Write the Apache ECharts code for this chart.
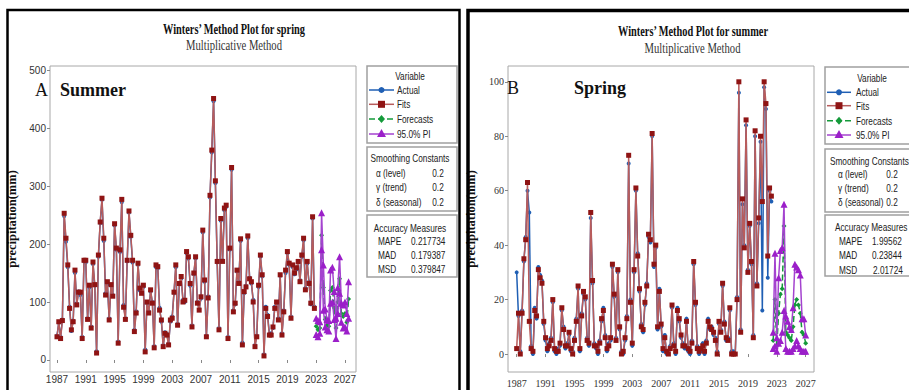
<!DOCTYPE html>
<html>
<head>
<meta charset="utf-8">
<script src="https://cdn.jsdelivr.net/npm/echarts@6/dist/echarts.min.js"></script>
<style>
  html, body { margin: 0; padding: 0; background: #fff; }
  #main { width: 909px; height: 390px; }
</style>
</head>
<body>
<div id="main"></div>
<script>
// 4 values per year, first one at 1987
var startYear = 1987;
var perYear = 4;

var yearTicks = [1987, 1991, 1995, 1999, 2003, 2007, 2011, 2015, 2019, 2023, 2027];
var summerTicks = [0, 100, 200, 300, 400, 500];
var springTicks = [0, 20, 40, 60, 80, 100];

// panel A (summer) - rows of 12 = 3 years
var summerActual = [
  42, 64, 40, 70, 248, 204, 160, 92, 50, 68, 150, 98,
  118, 112, 40, 170, 168, 72, 125, 58, 165, 128, 15, 178,
  236, 276, 205, 115, 130, 72, 128, 112, 232, 190, 32, 186,
  272, 95, 72, 170, 254, 212, 168, 52, 84, 164, 120, 118,
  126, 18, 98, 84, 118, 100, 24, 160, 158, 90, 66, 26,
  48, 45, 28, 66, 75, 115, 160, 62, 130, 140, 104, 100,
  184, 175, 128, 60, 148, 175, 100, 88, 106, 220, 135, 42,
  110, 280, 358, 446, 305, 168, 55, 240, 172, 258, 264, 40,
  190, 328, 86, 96, 152, 135, 205, 30, 115, 128, 210, 142,
  132, 104, 26, 42, 126, 178, 144, 10, 92, 78, 45, 46,
  55, 92, 98, 72, 145, 46, 86, 150, 184, 164, 75, 160,
  148, 156, 168, 138, 178, 206, 124, 166, 135, 96, 244, 92
];
var summerFits = [
  40, 66, 37, 68, 253, 210, 164, 89, 52, 66, 155, 95,
  117, 117, 37, 172, 172, 70, 129, 55, 169, 130, 12, 181,
  238, 279, 210, 112, 135, 69, 130, 110, 235, 193, 29, 190,
  277, 91, 70, 172, 257, 215, 172, 49, 81, 167, 124, 115,
  129, 14, 100, 81, 121, 98, 21, 164, 161, 86, 69, 23,
  46, 43, 26, 69, 72, 117, 164, 60, 132, 144, 100, 103,
  187, 178, 132, 57, 150, 178, 98, 86, 109, 224, 138, 40,
  107, 284, 362, 451, 309, 170, 52, 244, 170, 262, 267, 37,
  193, 332, 83, 98, 155, 132, 209, 26, 118, 126, 214, 140,
  135, 100, 23, 40, 129, 181, 147, 7, 89, 75, 43, 43,
  57, 89, 100, 69, 147, 43, 83, 155, 187, 167, 72, 164,
  150, 159, 170, 135, 181, 210, 121, 170, 132, 98, 247, 89
];
var summerForecast = [58, 52, 55, 215, 125, 70, 60, 58, 120, 125, 90, 55, 100, 140, 80, 75, 80, 65, 105];
var summerUpper = [72, 68, 66, 254, 164, 88, 70, 68, 155, 160, 118, 72, 125, 178, 98, 95, 100, 80, 135];
var summerLower = [44, 40, 46, 190, 86, 57, 52, 50, 98, 100, 70, 37, 80, 115, 65, 55, 57, 50, 72];

// panel B (spring)
var springActual = [
  30, 14, 1, 16, 34, 43, 60, 52, 3, 0, 17, 13,
  32, 29, 27, 11, 5, 1, 4, 6, 19, 1, 0, 2,
  3, 16, 10, 2, 4, 7, 1, 1, 6, 13, 24, 1,
  15, 22, 20, 6, 3, 50, 26, 4, 2, 0, 5, 12,
  17, 7, 1, 4, 5, 32, 21, 6, 30, 9, 1, 0,
  5, 14, 70, 20, 3, 30, 60, 37, 23, 11, 8, 18,
  26, 43, 41, 80, 32, 39, 9, 24, 10, 1, 7, 0,
  1, 3, 17, 4, 0, 17, 12, 6, 4, 2, 13, 1,
  0, 5, 33, 18, 3, 0, 1, 4, 0, 5, 13, 9,
  10, 7, 6, 1, 11, 9, 25, 12, 5, 6, 16, 1,
  1, 0, 21, 96, 9, 55, 40, 84, 31, 47, 33, 7,
  80, 26, 48, 78, 16, 98, 90, 28, 60, 56
];
var springFits = [
  2, 15, 0, 15, 35, 42, 63, 12, 2, 1, 16, 14,
  31, 28, 26, 12, 6, 2, 3, 5, 20, 2, 1, 1,
  4, 17, 9, 3, 3, 8, 2, 0, 5, 12, 25, 2,
  14, 23, 21, 5, 4, 52, 27, 3, 3, 1, 4, 13,
  16, 6, 2, 3, 6, 33, 22, 5, 31, 10, 0, 1,
  6, 13, 73, 19, 4, 31, 61, 36, 24, 10, 9, 19,
  25, 44, 42, 81, 33, 40, 10, 23, 11, 2, 6, 1,
  0, 2, 18, 3, 1, 16, 13, 7, 3, 3, 12, 2,
  1, 4, 34, 19, 2, 1, 2, 3, 1, 4, 12, 10,
  9, 8, 5, 0, 12, 8, 26, 11, 6, 5, 17, 0,
  0, 0, 20, 100, 8, 57, 39, 86, 30, 48, 34, 6,
  82, 25, 50, 80, 56, 100, 92, 36, 61, 58
];
var springForecast = [5, 20, 3, 15, 22, 24, 47, 8, 7, 6, 5, 10, 18, 20, 18, 15, 8, 7, 4];
var springUpper = [8, 37, 6, 28, 38, 39, 55, 14, 12, 10, 9, 17, 33, 32, 31, 29, 13, 13, 7];
var springLower = [2, 3, 1, 4, 5, 8, 16, 2, 1, 1, 1, 2, 3, 5, 3, 2, 1, 1, 1];

var sansFont = '"Liberation Sans", Arial, sans-serif';
var serifFont = '"Liberation Serif", "DejaVu Serif", serif';

var colActual = '#1f5fb4';
var colFitsLine = '#b85c5c';
var colFitsMark = '#8f1414';
var colFc = '#149a3a';
var colPI = '#9b1fc9';

function toPoints(values, offset) {
  return values.map(function (v, i) {
    return [startYear + (offset + i) / perYear, v];
  });
}

function panelSeries(idx, actual, fits, fc, up, lo) {
  var base = { type: 'line', xAxisIndex: idx, yAxisIndex: idx, emphasis: { disabled: true } };
  var n = actual.length;
  var pi = {
    symbol: 'triangle', symbolSize: 7, z: 5,
    itemStyle: { color: colPI },
    lineStyle: { color: '#a443cf', width: 1.5 }
  };
  return [
    Object.assign({}, base, {
      name: 'Actual', data: toPoints(actual, 0), z: 2,
      symbol: 'circle', symbolSize: 4,
      itemStyle: { color: colActual },
      lineStyle: { color: colActual, width: 1.5 }
    }),
    Object.assign({}, base, {
      name: 'Fits', data: toPoints(fits, 0), z: 3,
      symbol: 'rect', symbolSize: 5,
      itemStyle: { color: colFitsMark },
      lineStyle: { color: colFitsLine, width: 1.5 }
    }),
    Object.assign({}, base, {
      name: 'Forecasts', data: toPoints(fc, n), z: 4,
      symbol: 'diamond', symbolSize: 5,
      itemStyle: { color: colFc },
      lineStyle: { color: colFc, width: 1.5, type: 'dashed' }
    }),
    Object.assign({}, base, pi, { name: '95.0% PI', data: toPoints(up, n) }),
    Object.assign({}, base, pi, { name: '95.0% PI', data: toPoints(lo, n) })
  ];
}

function xAxisFor(idx, min, max, font, margin) {
  return {
    gridIndex: idx, type: 'value', min: min, max: max,
    axisLine: { show: false }, splitLine: { show: false },
    axisTick: { customValues: yearTicks, length: 3, lineStyle: { color: '#888' } },
    axisLabel: {
      customValues: yearTicks, margin: margin, fontFamily: font, fontSize: 10, color: '#333',
      formatter: function (v) { return String(v); }
    }
  };
}

function yAxisFor(idx, min, max, ticks, font, gap) {
  return {
    gridIndex: idx, type: 'value', min: min, max: max,
    name: 'precipitation(mm)', nameLocation: 'middle', nameGap: gap,
    nameTextStyle: { fontFamily: serifFont, fontWeight: 'bold', fontSize: 12.5, color: '#111' },
    axisLine: { show: false }, splitLine: { show: false },
    axisTick: { customValues: ticks, length: 3, lineStyle: { color: '#888' } },
    axisLabel: {
      customValues: ticks, margin: 4, fontFamily: font, fontSize: 10, color: '#333',
      formatter: function (v) { return String(v); }
    }
  };
}

// small condensed text (Minitab legend look)
function txt(s, x, y, opts) {
  opts = opts || {};
  return {
    type: 'text', x: x, y: y, scaleX: opts.sx || 0.75, z: 10,
    style: {
      text: s,
      font: opts.font || ('11px ' + sansFont),
      fill: opts.color || '#222',
      align: opts.align || 'left',
      verticalAlign: 'middle'
    }
  };
}

function box(x, y, w, h) {
  return {
    type: 'rect', z: 9,
    shape: { x: x, y: y, width: w, height: h },
    style: { fill: 'none', stroke: '#a0a0a0', lineWidth: 1.5 }
  };
}

// legend rows: line + marker + label
function legendRows(x1, x2, tx, ys) {
  var cx = (x1 + x2) / 2;
  var out = [];
  function ln(y, color, dash) {
    return { type: 'line', z: 10, shape: { x1: x1, y1: y, x2: x2, y2: y },
      style: { stroke: color, lineWidth: 1.5, lineDash: dash || null } };
  }
  out.push(ln(ys[0], colActual),
    { type: 'circle', z: 11, shape: { cx: cx, cy: ys[0], r: 3 }, style: { fill: colActual } },
    txt('Actual', tx, ys[0]));
  out.push(ln(ys[1], colFitsLine),
    { type: 'rect', z: 11, shape: { x: cx - 3.5, y: ys[1] - 3.5, width: 7, height: 7 }, style: { fill: colFitsMark } },
    txt('Fits', tx, ys[1]));
  out.push(ln(ys[2], colFc, [6, 3]),
    { type: 'polygon', z: 11, shape: { points: [[cx, ys[2] - 4], [cx + 3.5, ys[2]], [cx, ys[2] + 4], [cx - 3.5, ys[2]]] }, style: { fill: colFc } },
    txt('Forecasts', tx, ys[2]));
  out.push(ln(ys[3], '#a443cf'),
    { type: 'polygon', z: 11, shape: { points: [[cx, ys[3] - 5], [cx + 4.5, ys[3] + 3], [cx - 4.5, ys[3] + 3]] }, style: { fill: colPI } },
    txt('95.0% PI', tx, ys[3]));
  return out;
}

var titleFont = 'bold 14px ' + serifFont;
var subFont = '14px ' + serifFont;
var bigFont = 'bold 18px ' + serifFont;
var letterFont = '18px ' + serifFont;

var graphics = [
  // panel frames
  { type: 'rect', z: 9, shape: { x: 7.5, y: 10, width: 452, height: 400 },
    style: { fill: 'none', stroke: '#000', lineWidth: 2.5 } },
  { type: 'rect', z: 9, shape: { x: 468, y: 10.5, width: 460, height: 400 },
    style: { fill: 'none', stroke: '#000', lineWidth: 3.5 } },

  // panel A
  txt('Winters’ Method Plot for spring', 234, 29, { font: titleFont, align: 'center', sx: 0.74, color: '#111' }),
  txt('Multiplicative Method', 234, 45.5, { font: subFont, align: 'center', sx: 0.76, color: '#333' }),
  txt('A', 35, 90, { font: letterFont, color: '#111', sx: 1 }),
  txt('Summer', 60, 90, { font: bigFont, color: '#111', sx: 1 }),
  box(367, 66, 90, 77), box(367, 147, 90, 64), box(367, 215, 90, 62),
  txt('Variable', 410, 76, { align: 'center' }),
  txt('Smoothing Constants', 410, 158, { align: 'center' }),
  txt('α (level)', 376, 173), txt('0.2', 438, 173, { align: 'center' }),
  txt('γ (trend)', 376, 187.5), txt('0.2', 438, 187.5, { align: 'center' }),
  txt('δ (seasonal)', 376, 202), txt('0.2', 438, 202, { align: 'center' }),
  txt('Accuracy Measures', 410, 228, { align: 'center' }),
  txt('MAPE', 378, 241), txt('0.217734', 411, 241),
  txt('MAD', 378, 255), txt('0.179387', 411, 255),
  txt('MSD', 378, 269.5), txt('0.379847', 411, 269.5),

  // panel B
  txt('Winters’ Method Plot for summer', 693, 31, { font: titleFont, align: 'center', sx: 0.74, color: '#111' }),
  txt('Multiplicative Method', 692.5, 48.5, { font: subFont, align: 'center', sx: 0.76, color: '#333' }),
  txt('B', 507, 88, { font: letterFont, color: '#111', sx: 1 }),
  txt('Spring', 574, 88, { font: bigFont, color: '#111', sx: 1 }),
  box(825, 67, 100, 77), box(825, 149, 100, 63), box(825, 215, 100, 61),
  txt('Variable', 872, 78, { align: 'center' }),
  txt('Smoothing Constants', 830, 161),
  txt('α (level)', 838, 174.5), txt('0.2', 892, 174.5, { align: 'center' }),
  txt('γ (trend)', 838, 188.5), txt('0.2', 892, 188.5, { align: 'center' }),
  txt('δ (seasonal)', 838, 202.5), txt('0.2', 892, 202.5, { align: 'center' }),
  txt('Accuracy Measures', 835, 227),
  txt('MAPE', 839, 241), txt('1.99562', 872, 241),
  txt('MAD', 839, 255), txt('0.23844', 872, 255),
  txt('MSD', 839, 270), txt('2.01724', 873, 270)
].concat(
  legendRows(369, 394, 397, [90, 104.3, 119, 134]),
  legendRows(827, 851, 856, [92.3, 105.7, 120.7, 135])
);

var chart = echarts.init(document.getElementById('main'), null, { renderer: 'svg' });
chart.setOption({
  animation: false,
  backgroundColor: '#fff',
  grid: [
    { left: 50, top: 66, width: 306, height: 306, show: true, borderColor: '#a8a8a8', borderWidth: 1 },
    { left: 508, top: 66, width: 306, height: 306, show: true, borderColor: '#a8a8a8', borderWidth: 1 }
  ],
  xAxis: [
    xAxisFor(0, 1986.03, 2028.53, sansFont, 2),
    xAxisFor(1, 1985.8, 2028.15, serifFont, 6)
  ],
  yAxis: [
    yAxisFor(0, -20.7, 507, summerTicks, sansFont, 32),
    yAxisFor(1, -6.6, 105.8, springTicks, serifFont, 31)
  ],
  graphic: graphics,
  series: panelSeries(0, summerActual, summerFits, summerForecast, summerUpper, summerLower)
    .concat(panelSeries(1, springActual, springFits, springForecast, springUpper, springLower))
});
</script>
</body>
</html>
